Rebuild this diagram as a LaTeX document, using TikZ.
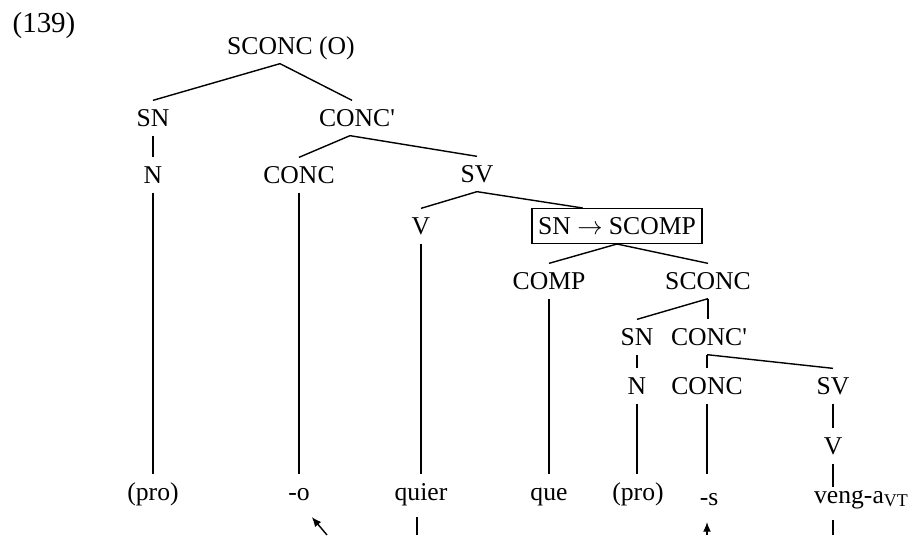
\documentclass[tikz,border=0pt]{standalone}
\usepackage{fontspec}
\setmainfont{Liberation Serif}
\usepackage{tikz}
\usetikzlibrary{arrows.meta,calc}

\tikzset{
  cat/.style={inner xsep=1pt,inner ysep=5pt,text height=9.7pt,text depth=0pt},
  leaf/.style={inner xsep=1pt,inner ysep=5pt,anchor=base,text height=9.7pt,text depth=4.5pt},
  branch/.style={line width=0.8pt},
  pointer/.style={line width=0.8pt,-{Latex[length=5.5pt,width=4.5pt]}}
}

\begin{document}
\begin{tikzpicture}[x=0.02cm,y=-0.02cm,font=\fontsize{14.6}{17.5}\selectfont]
\useasboundingbox (0,0) rectangle (912,535);
\node[cat,font=\fontsize{16.5}{19}\selectfont] (ex) at (44,24) {(139)};
% upper tree
\node[cat] (top) at (291,46) {SCONC (O)};
\node[cat] (sna) at (153,118) {SN};
\node[cat] (concba) at (357,118) {CONC\textquotesingle};
\node[cat] (na) at (153,175) {N};
\node[cat] (conca) at (299,175) {CONC};
\node[cat] (sva) at (477,174) {SV};
\node[cat] (va) at (421,226) {V};
\node[draw,line width=0.8pt,inner xsep=3.5pt,inner ysep=5pt,text height=9.7pt,text depth=0pt] (box) at (617,226) {SN $\rightarrow$ SCOMP};
\node[cat] (comp) at (549,281) {COMP};
\node[cat] (sconc) at (708,281) {SCONC};
% embedded clause
\node[cat] (snb) at (637,337) {SN};
\node[cat] (concbb) at (709,337) {CONC\textquotesingle};
\node[cat] (nb) at (637,386) {N};
\node[cat] (concb) at (707,386) {CONC};
\node[cat] (svb) at (833,386) {SV};
\node[cat] (vb) at (833,446) {V};
% leaves
\node[leaf] (proa) at (153,500) {(pro)};
\node[leaf] (o) at (299,500) {-o};
\node[leaf] (quier) at (421,500) {quier};
\node[leaf] (que) at (549,500) {que};
\node[leaf] (prob) at (638,500) {(pro)};
\node[leaf] (s) at (709,505) {-s};
\node[leaf,anchor=base west] (veng) at (812,503) {veng-a\textsubscript{VT}};

\draw[branch] ($(top.south)+(-11,0)$) -- (sna.north);
\draw[branch] ($(top.south)+(-11,0)$) -- ($(concba.north)+(-5,0)$);
\draw[branch] (sna) -- (na);
\draw[branch] (na.south) -- (na.south |- proa.north);
\draw[branch] ($(concba.south)+(-7,0)$) -- (conca.north);
\draw[branch] ($(concba.south)+(-7,0)$) -- (sva.north);
\draw[branch] (conca.south) -- (conca.south |- proa.north);
\draw[branch] (sva.south) -- (va.north);
\draw[branch] (sva.south) -- ($(box.north west)!0.3!(box.north east)$);
\draw[branch] (va.south) -- (va.south |- proa.north);
\draw[branch] (box.south) -- (comp.north);
\draw[branch] (box.south) -- (sconc.north);
\draw[branch] (comp.south) -- (comp.south |- proa.north);
\draw[branch] (sconc.south) -- (snb.north);
\draw[branch] (sconc.south) -- (sconc.south |- concbb.north);
\draw[branch] (snb) -- (nb);
\draw[branch] (nb.south) -- (nb.south |- prob.north);
\draw[branch] (concb.north |- concbb.south) -- (concb.north);
\draw[branch] (concb.north |- concbb.south) -- (svb.north);
\draw[branch] (concb.south) -- (concb.south |- prob.north);
\draw[branch] (svb) -- (vb);
\draw[branch] (vb.south) -- ($(vb.south |- veng.north)+(0,10)$);

% lines running on below the picture
\coordinate (ob) at (327,535);
\coordinate (qb) at (417,535);
\coordinate (sb) at (707,535);
\coordinate (vgb) at (833,535);
\draw[pointer] (ob) -- (o.south east);
\draw[branch] (qb) -- (qb |- quier.south);
\draw[pointer] (sb) -- (sb |- s.south);
\draw[branch] (vgb) -- (vgb |- veng.south);
\end{tikzpicture}
\end{document}
